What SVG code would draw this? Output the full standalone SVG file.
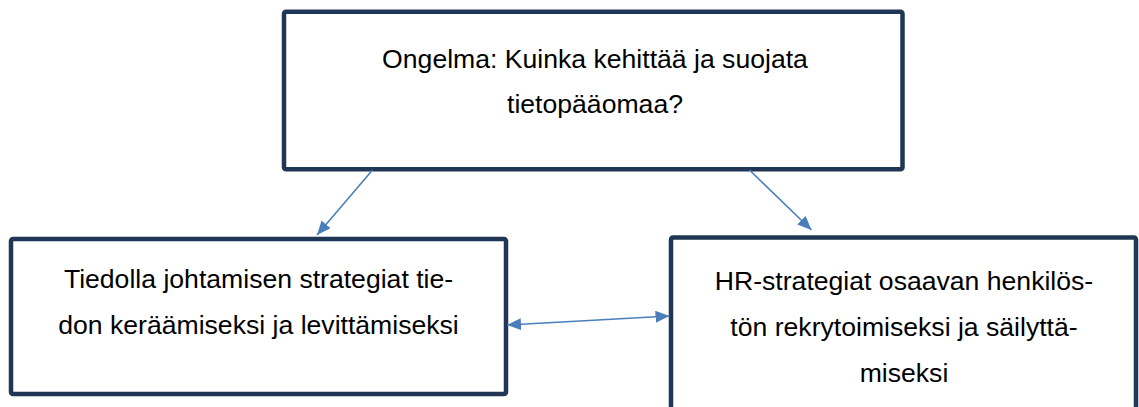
<svg xmlns="http://www.w3.org/2000/svg" width="1139" height="407" viewBox="0 0 1139 407">
  <style>
    .box { fill: #ffffff; stroke: #1f3654; stroke-width: 4.5; }
    .lbl { font-family: "Liberation Sans", Arial, sans-serif; font-size: 26.6px; fill: #000000; text-anchor: middle; }
    .conn { stroke: #4a7ebb; stroke-width: 1.6; fill: none; }
  </style>
  <defs>
    <marker id="ah" viewBox="0 0 14 12" refX="14" refY="6" markerWidth="14" markerHeight="12" markerUnits="userSpaceOnUse" orient="auto-start-reverse">
      <path d="M0,0 L14,6 L0,12 z" fill="#4a7ebb"/>
    </marker>
  </defs>
  <rect width="1139" height="407" fill="#ffffff"/>
  <g id="node-problem">
    <rect class="box" x="284" y="11.8" width="618.5" height="157.4" rx="2"/>
    <text class="lbl" x="595" y="68">Ongelma: Kuinka kehittää ja suojata</text>
    <text class="lbl" x="595" y="113">tietopääomaa?</text>
  </g>
  <g id="node-knowledge">
    <rect class="box" x="11" y="239" width="495" height="155" rx="2"/>
    <text class="lbl" x="258.5" y="288">Tiedolla johtamisen strategiat tie-</text>
    <text class="lbl" x="258.5" y="333.5">don keräämiseksi ja levittämiseksi</text>
  </g>
  <g id="node-hr">
    <rect class="box" x="671" y="237.5" width="465" height="200" rx="2"/>
    <text class="lbl" x="904" y="290">HR-strategiat osaavan henkilös-</text>
    <text class="lbl" x="904" y="336">tön rekrytoimiseksi ja säilyttä-</text>
    <text class="lbl" x="904" y="382">miseksi</text>
  </g>
  <g id="connectors">
    <line class="conn" x1="372.5" y1="170" x2="317" y2="235" marker-end="url(#ah)"/>
    <line class="conn" x1="749.5" y1="170" x2="811.5" y2="230" marker-end="url(#ah)"/>
    <line class="conn" x1="507" y1="325" x2="669.5" y2="316" marker-start="url(#ah)" marker-end="url(#ah)"/>
  </g>
</svg>
